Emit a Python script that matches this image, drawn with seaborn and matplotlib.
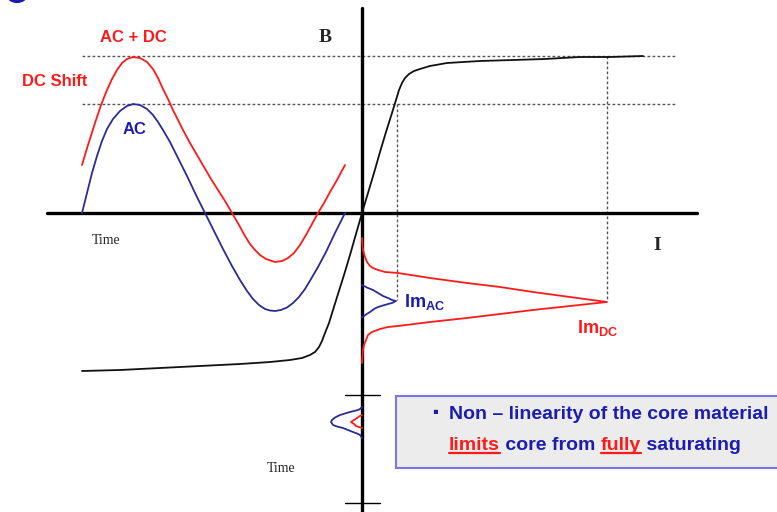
import matplotlib
matplotlib.use("Agg")
import matplotlib.pyplot as plt
import seaborn as sns
import pandas as pd
from matplotlib.patches import Rectangle, Ellipse

# --- curve points (pixel coords, y down) ---
ac_x = [82, 87, 92, 97, 102, 107, 113, 120, 127, 133, 140, 147, 153, 158, 163, 170, 178,
        187, 196, 205, 214, 223, 232, 240, 247, 253, 259, 265, 270, 275, 281, 287, 293,
        299, 305, 311, 318, 326, 335, 345]
ac_y = [213, 193, 173, 156, 141, 129, 119, 111, 106, 104, 105, 109, 115, 122, 130, 142, 158,
        176, 195, 213, 231, 249, 266, 280, 291, 299, 305, 309, 310.5, 311, 310, 307.5, 303,
        297, 289, 279, 267, 252, 233, 213]

acdc_x = [82, 88, 95, 101, 107, 112, 117, 122, 127, 133, 140, 147, 153, 158, 163, 168,
          173, 178, 183, 190, 197, 204, 211, 218, 225, 232, 239, 245, 250, 255, 260, 266,
          275, 282, 288, 294, 300, 306, 312, 318, 324, 330, 337, 345]
acdc_y = [165, 145, 123, 105, 90, 79, 70, 63, 59, 57, 58, 62, 69, 78, 89, 99,
          110, 120, 130, 143, 155, 167, 179, 190, 201, 213, 225, 236, 244, 250, 255, 259,
          262, 261, 258, 253, 245, 235, 224, 213, 203, 192, 180, 165]

bh_x = [82, 120, 160, 200, 240, 270, 290, 302, 310, 315, 319, 322, 325, 329, 333, 338, 344,
        350, 356, 362, 368, 374, 380, 386, 392, 396, 399, 402, 405, 409, 414, 420, 430,
        447, 480, 513, 545, 580, 610, 643]
bh_y = [371, 370, 368, 366, 364, 362, 360, 358, 355, 352, 347, 341, 333, 323, 310, 294, 275,
        255, 234, 213, 193, 173, 152, 132, 113, 100, 90, 83, 78, 74, 71, 69, 66,
        63, 61, 60, 59, 57, 57, 56]

imdc_x = [362, 362.5, 363, 365, 367, 370, 373, 378, 385, 398, 430, 467, 500, 533, 570, 607,
          570, 533, 500, 467, 430, 398, 388, 380, 372, 368, 366, 364, 363, 362.5, 362]
imdc_y = [238, 245, 250, 257, 262, 266, 268, 270, 272, 273, 278, 283, 287, 292, 297, 302,
          306, 310, 314, 318, 322, 326, 327, 329, 332, 335, 340, 345, 350, 356, 363]

imac_x = [362, 364, 368, 373, 378, 383, 388, 392, 396, 392, 388, 383, 378, 374, 370, 366, 364, 362]
imac_y = [285, 286, 288, 290, 293, 296, 298, 300, 301, 303, 304, 305.5, 307, 309, 312, 314.5, 316, 317]

small_ac_x = [362, 360, 358, 354, 350, 345, 340, 335, 332, 331, 333, 337, 343, 348, 353, 357, 360, 362]
small_ac_y = [407, 409, 410, 411, 412, 413.5, 415, 417.5, 420, 422, 425, 426.5, 428, 430, 432, 433.5, 435, 438]
small_dc_x = [362, 360, 357, 354, 351, 354, 356, 359, 362]
small_dc_y = [415, 416, 418, 420, 422, 424, 426, 427, 428]

sat_levels = [56, 104]
im_levels = [397, 607]

RED = "#ff1a1a"
NAVY = "#2b2b98"
BLUE = "#1c1cb0"

sns.set_theme(style="white")
plt.rcParams["font.family"] = ["Liberation Sans", "DejaVu Sans"]
plt.rcParams["mathtext.fontset"] = "custom"
plt.rcParams["mathtext.bf"] = "Liberation Sans:bold"
plt.rcParams["mathtext.rm"] = "Liberation Sans:bold"

fig = plt.figure(figsize=(7.77, 5.12), dpi=100)
ax = fig.add_axes([0, 0, 1, 1])
ax.set_xlim(0, 777)
ax.set_ylim(512, 0)
ax.axis("off")


def curve(xs, ys, color, lw=1.3):
    df = pd.DataFrame({"x": xs, "y": ys})
    sns.lineplot(data=df, x="x", y="y", sort=False, estimator=None,
                 color=color, lw=lw, ax=ax)


# dashed guide lines
for lv in sat_levels:
    ax.plot([82, 677], [lv, lv], color="#555555", lw=1, ls=(0, (2, 1.6)))
ax.plot([im_levels[0]] * 2, [104, 300], color="#555555", lw=1, ls=(0, (2, 1.6)))
ax.plot([im_levels[1]] * 2, [56, 300], color="#555555", lw=1, ls=(0, (2, 1.6)))

# axes
ax.plot([47, 697], [213, 213], color="black", lw=2.4)
ax.plot([362, 362], [8, 512], color="black", lw=2.4)
for ty in [395, 503]:
    ax.plot([345, 380], [ty, ty], color="black", lw=1)

curve(acdc_x, acdc_y, RED)
curve(ac_x, ac_y, NAVY)
curve(bh_x, bh_y, "#111111")
curve(imdc_x, imdc_y, RED)
curve(imac_x, imac_y, NAVY)
curve(small_ac_x, small_ac_y, NAVY)
curve(small_dc_x, small_dc_y, RED)

# labels
ax.text(133, 38, "AC + DC", color=RED, fontsize=12, fontweight="bold", ha="center", va="center")
ax.text(55, 81, "DC Shift", color=RED, fontsize=12, fontweight="bold", ha="center", va="center")
ax.text(135, 129, "AC", color=BLUE, fontsize=12, fontweight="bold", ha="center", va="center")
ax.text(404, 302, r"$\mathbf{Im}_{\mathbf{AC}}$", color=BLUE, fontsize=13, ha="left", va="center")
ax.text(577, 328, r"$\mathbf{Im}_{\mathbf{DC}}$", color=RED, fontsize=13, ha="left", va="center")
ax.text(325, 38, "B", family="Liberation Serif", fontweight="bold", fontsize=14, ha="center", va="center")
ax.text(657, 245, "I", family="Liberation Serif", fontweight="bold", fontsize=14, ha="center", va="center")
ax.text(106, 240, "Time", family="Liberation Serif", fontsize=10, ha="center", va="center")
ax.text(281, 468, "Time", family="Liberation Serif", fontsize=10, ha="center", va="center")

# cut-off glyph of the slide title in the corner
ax.add_patch(Ellipse((17, -6), 18, 14, facecolor="none", edgecolor="#1c1ca8", lw=3))

# note box
ax.add_patch(Rectangle((396, 396), 420, 72, facecolor="#ececec", edgecolor="#7777e6", lw=1.5))
ax.text(435, 413, "\u25aa", color=BLUE, fontsize=12, ha="center", va="center")
ax.text(449, 419, "Non \u2013 linearity of the core material", color=BLUE,
        fontsize=14, fontweight="bold", ha="left", va="baseline")

parts = [("limits", RED, True), (" core from ", BLUE, False),
         ("fully", RED, True), (" saturating", BLUE, False)]
renderer = fig.canvas.get_renderer()
inv = ax.transData.inverted()
x0 = 449
for txt, col, under in parts:
    t = ax.text(x0, 450, txt, color=col, fontsize=14, fontweight="bold", ha="left", va="baseline")
    bb = t.get_window_extent(renderer=renderer)
    (xa, _), (xb, _) = inv.transform([[bb.x0, bb.y0], [bb.x1, bb.y1]])
    if under:
        ax.plot([xa, xb], [453, 453], color=col, lw=1.6)
    x0 = xb

fig.savefig("out.png", dpi=100)
